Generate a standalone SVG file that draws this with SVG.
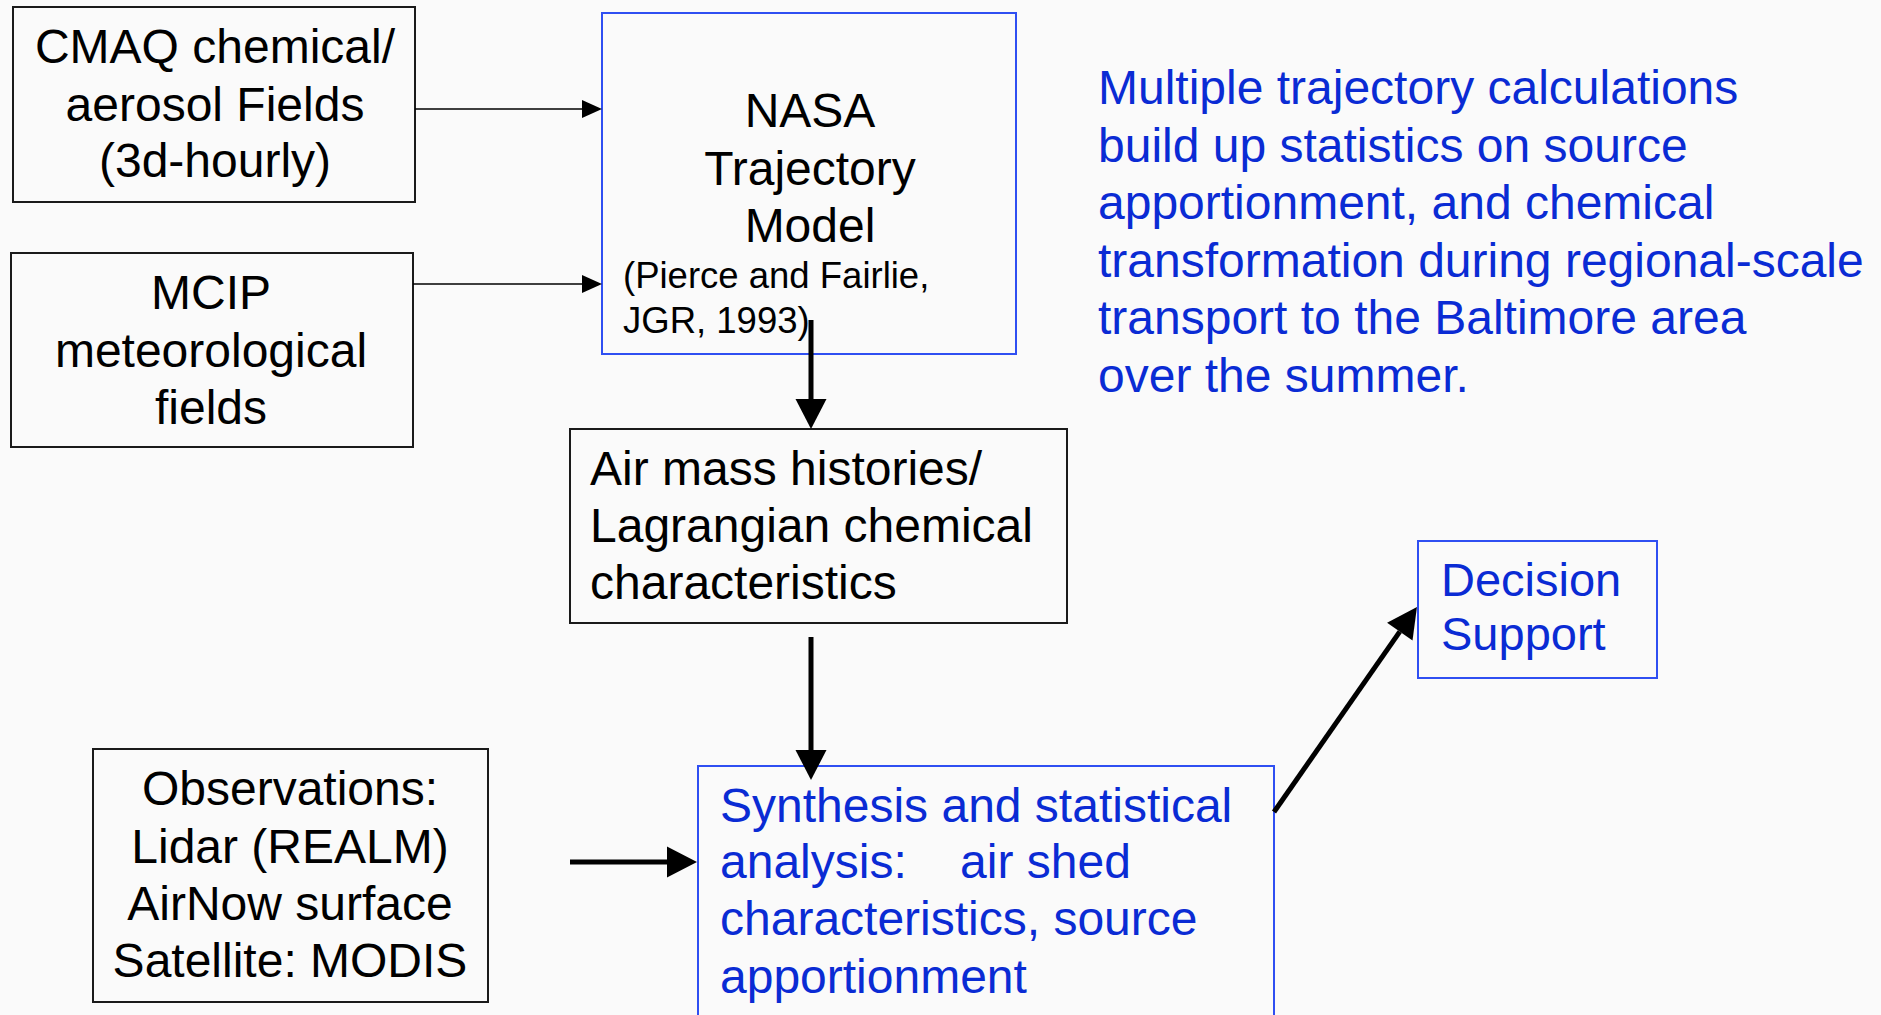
<svg xmlns="http://www.w3.org/2000/svg" width="1881" height="1015" viewBox="0 0 1881 1015">
<style>
text{font-family:"Liberation Sans",Arial,sans-serif;font-size:48px}
.k{fill:#000}
.b{fill:#0a2bd4}
.c{text-anchor:middle}
.bx{fill:none;stroke:#1a1a1a;stroke-width:2}
.bb{fill:none;stroke:#2f4ff2;stroke-width:2}
.thin{stroke:#000;stroke-width:1.6;fill:none}
.thick{stroke:#000;stroke-width:5;fill:none}
</style>
<defs>
<marker id="ht" markerUnits="userSpaceOnUse" markerWidth="20" markerHeight="18" refX="0" refY="9" orient="auto" overflow="visible"><path d="M0,0 L20,9 L0,18 z" fill="#000"/></marker>
<marker id="hk" markerUnits="userSpaceOnUse" markerWidth="30" markerHeight="31" refX="0" refY="15.5" orient="auto" overflow="visible"><path d="M0,0 L30,15.5 L0,31 z" fill="#000"/></marker>
</defs>
<rect width="1881" height="1015" fill="#fafafa"/>
<g id="cmaq">
<rect class="bx" x="13" y="7" width="402" height="195"/>
<text class="k c" x="215" y="63">CMAQ chemical/</text>
<text class="k c" x="215" y="121">aerosol Fields</text>
<text class="k c" x="215" y="177">(3d-hourly)</text>
</g>
<g id="mcip">
<rect class="bx" x="11" y="253" width="402" height="194"/>
<text class="k c" x="211" y="309">MCIP</text>
<text class="k c" x="211" y="367">meteorological</text>
<text class="k c" x="211" y="424">fields</text>
</g>
<g id="nasa">
<rect class="bb" x="602" y="13" width="414" height="341"/>
<text class="k c" x="810" y="127">NASA</text>
<text class="k c" x="810" y="185">Trajectory</text>
<text class="k c" x="810" y="242">Model</text>
<text class="k" x="623" y="288" style="font-size:36.5px">(Pierce and Fairlie,</text>
<text class="k" x="623" y="333" style="font-size:36.5px">JGR, 1993)</text>
</g>
<g id="airmass">
<rect class="bx" x="570" y="429" width="497" height="194"/>
<text class="k" x="590" y="485">Air mass histories/</text>
<text class="k" x="590" y="542">Lagrangian chemical</text>
<text class="k" x="590" y="599">characteristics</text>
</g>
<g id="observations">
<rect class="bx" x="93" y="749" width="395" height="253"/>
<text class="k c" x="290" y="805">Observations:</text>
<text class="k c" x="290" y="863">Lidar (REALM)</text>
<text class="k c" x="290" y="920">AirNow surface</text>
<text class="k c" x="290" y="977">Satellite: MODIS</text>
</g>
<g id="synthesis">
<rect class="bb" x="698" y="766" width="576" height="260"/>
<text class="b" x="720" y="822">Synthesis and statistical</text>
<text class="b" x="720" y="878" xml:space="preserve">analysis:    air shed</text>
<text class="b" x="720" y="935">characteristics, source</text>
<text class="b" x="720" y="993">apportionment</text>
</g>
<g id="decision">
<rect class="bb" x="1418" y="541" width="239" height="137"/>
<text class="b" x="1441" y="596" style="font-size:47px">Decision</text>
<text class="b" x="1441" y="650" style="font-size:47px">Support</text>
</g>
<g id="note">
<text class="b" x="1098" y="104">Multiple trajectory calculations</text>
<text class="b" x="1098" y="161.6">build up statistics on source</text>
<text class="b" x="1098" y="219.2">apportionment, and chemical</text>
<text class="b" x="1098" y="276.8">transformation during regional-scale</text>
<text class="b" x="1098" y="334.4">transport to the Baltimore area</text>
<text class="b" x="1098" y="392">over the summer.</text>
</g>
<g id="connectors">
<line class="thin" x1="415" y1="109" x2="582" y2="109" marker-end="url(#ht)"/>
<line class="thin" x1="413" y1="284" x2="582" y2="284" marker-end="url(#ht)"/>
<line class="thick" x1="811" y1="320" x2="811" y2="399" marker-end="url(#hk)"/>
<line class="thick" x1="811" y1="637" x2="811" y2="750" marker-end="url(#hk)"/>
<line class="thick" x1="570" y1="862" x2="667" y2="862" marker-end="url(#hk)"/>
<line class="thick" x1="1274" y1="812" x2="1399.8" y2="631.6" marker-end="url(#hk)"/>
</g>
</svg>
